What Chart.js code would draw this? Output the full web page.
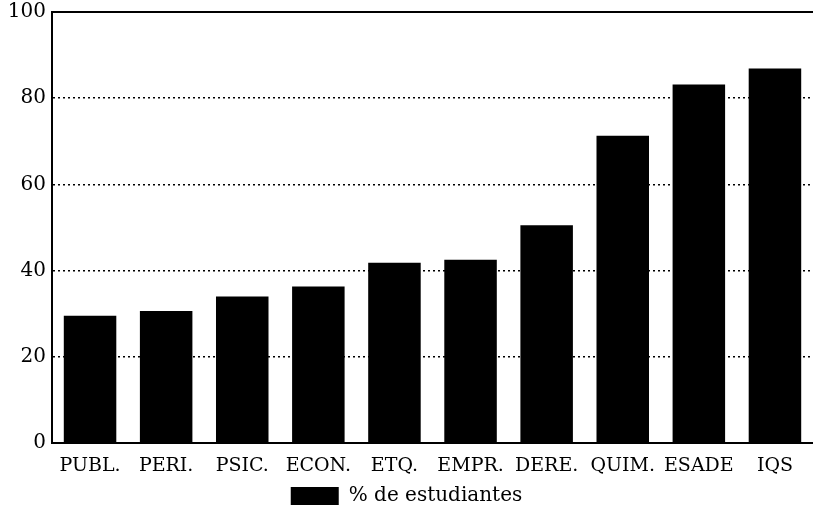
<!DOCTYPE html>
<html>
<head>
<meta charset="utf-8">
<script src="https://cdn.jsdelivr.net/npm/chart.js@4"></script>
<style>
html,body{margin:0;padding:0;background:#fff;}
#wrap{width:813px;height:516px;}
</style>
</head>
<body>
<div id="wrap"><canvas id="c" width="813" height="516"></canvas></div>
<script>
const categories = ["PUBL.", "PERI.", "PSIC.", "ECON.", "ETQ.", "EMPR.", "DERE.", "QUIM.", "ESADE", "IQS"];
const values = [29.5, 30.6, 34.0, 36.3, 41.8, 42.5, 50.5, 71.3, 83.2, 86.9];
const seriesName = "% de estudiantes";
const yTicks = [0, 20, 40, 60, 80, 100];

const FONT = "'DejaVu Serif', 'Liberation Serif', serif";

new Chart(document.getElementById('c'), {
  type: 'bar',
  data: {
    labels: categories,
    datasets: [{
      label: seriesName,
      data: values,
      backgroundColor: '#000',
      borderWidth: 0,
      barPercentage: 0.69,
      categoryPercentage: 1.0
    }]
  },
  options: {
    responsive: false,
    animation: false,
    devicePixelRatio: 1,
    layout: { padding: { top: 12, right: 0, left: 0, bottom: 0 } },
    plugins: {
      tooltip: { enabled: false },
      legend: {
        position: 'bottom',
        labels: {
          color: '#000',
          boxWidth: 48,
          boxHeight: 18,
          padding: 10,
          font: { family: FONT, size: 20 }
        }
      }
    },
    scales: {
      x: {
        grid: { display: false, drawTicks: false },
        border: { display: true, color: '#000', width: 2 },
        ticks: { color: '#000', font: { family: FONT, size: 19 }, padding: 12, maxRotation: 0, autoSkip: false },
        afterFit: (s) => { s.height = 33; }
      },
      y: {
        min: 0, max: 100,
        afterBuildTicks: (s) => { s.ticks = yTicks.map(v => ({ value: v })); },
        grid: {
          color: '#000',
          lineWidth: (ctx) => (ctx.tick && ctx.tick.value === 100) ? 2 : 1.5,
          drawTicks: false
        },
        border: {
          display: true, color: '#000', width: 2,
          dash: (ctx) => (ctx.type === 'tick' && ctx.tick && ctx.tick.value > 0 && ctx.tick.value < 100) ? [2, 3] : []
        },
        ticks: { color: '#000', font: { family: FONT, size: 20 }, padding: 6 },
        afterFit: (s) => { s.width = 52; s.paddingTop = 0; s.paddingBottom = 0; }
      }
    }
  }
});
</script>
</body>
</html>
